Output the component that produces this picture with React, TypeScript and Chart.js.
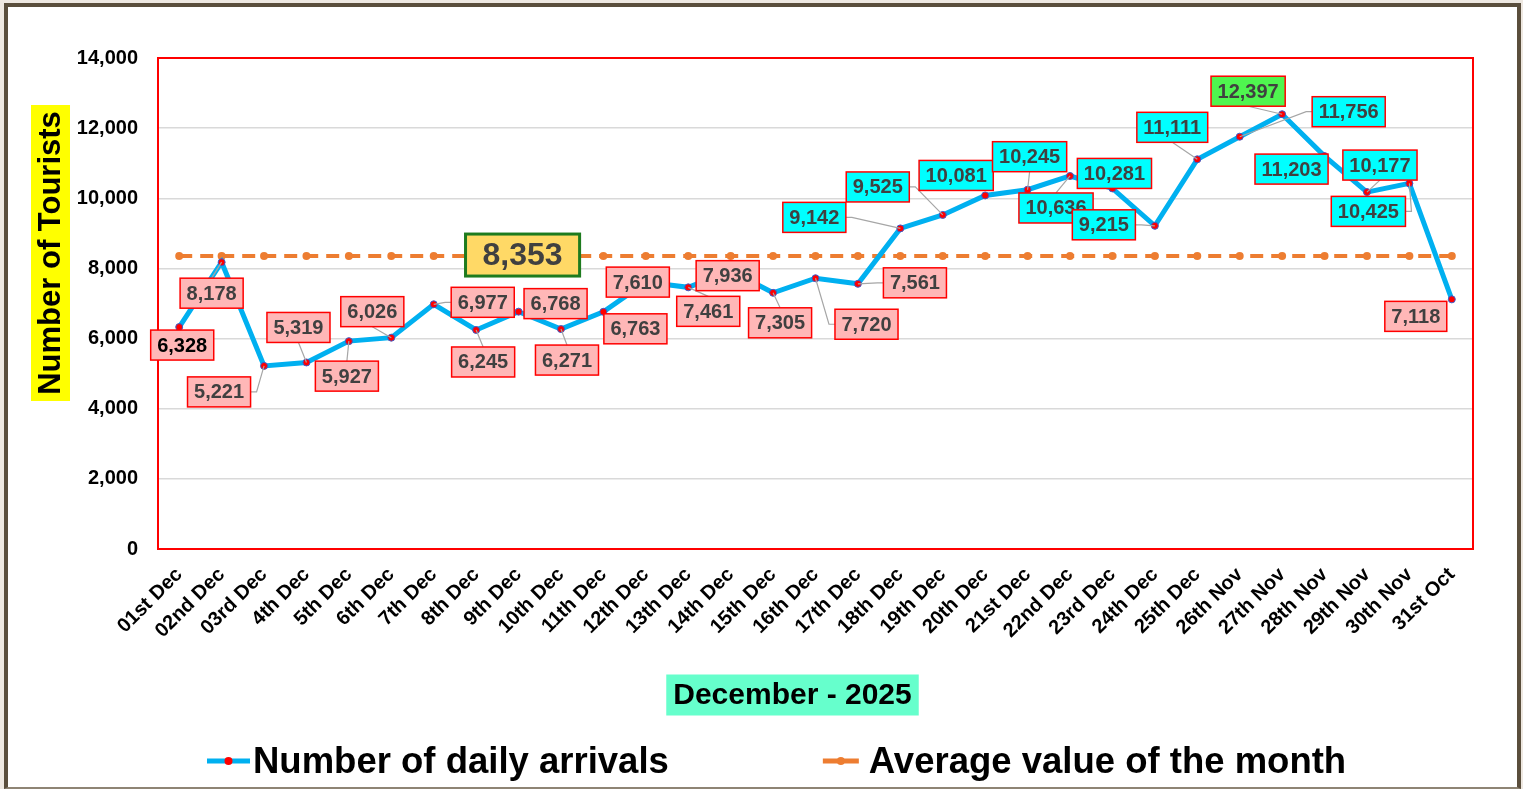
import { useEffect, useRef } from 'react';
import { Chart, registerables } from 'chart.js';

Chart.register(...registerables);

const CATEGORIES = [
  '01st Dec', '02nd Dec', '03rd Dec', '4th Dec', '5th Dec', '6th Dec', '7th Dec', '8th Dec',
  '9th Dec', '10th Dec', '11th Dec', '12th Dec', '13th Dec', '14th Dec', '15th Dec', '16th Dec',
  '17th Dec', '18th Dec', '19th Dec', '20th Dec', '21st Dec', '22nd Dec', '23rd Dec', '24th Dec',
  '25th Dec', '26th Nov', '27th Nov', '28th Nov', '29th Nov', '30th Nov', '31st Oct',
];

const DAILY_ARRIVALS = [
  6328, 8178, 5221, 5319, 5927, 6026, 6977, 6245, 6768, 6271, 6763, 7610, 7461, 7936, 7305, 7720,
  7561, 9142, 9525, 10081, 10245, 10636, 10281, 9215, 11111, 11756, 12397, 11203, 10177, 10425, 7118,
];

const MONTH_AVERAGE = 8353;
const AVERAGE_LINE = [
  8353, 8353, 8353, 8353, 8353, 8353, 8353, 8353, 8353, 8353, 8353, 8353, 8353, 8353, 8353, 8353,
  8353, 8353, 8353, 8353, 8353, 8353, 8353, 8353, 8353, 8353, 8353, 8353, 8353, 8353, 8353,
];

const Y_TICKS = [0, 2000, 4000, 6000, 8000, 10000, 12000, 14000];

const SERIES_NAMES = ['Number of daily arrivals', 'Average value of the month'];
const Y_TITLE = 'Number of Tourists';
const X_TITLE = 'December - 2025';

// label placement (pixel offsets of each data label centre from its point)
const LABEL_OFFSETS: [number, number][] = [
  [3, 18], [-10, 31], [-45, 26], [-8, -35], [-2, 35], [-19, -26], [49, -2], [7, 32],
  [37, -8], [6, 31], [32, 17], [-8, 0], [20, 24], [-3, 5], [7, 30], [51, 46],
  [57, -1], [-86, -11], [-65, -28], [-29, -20], [2, -33], [-14, 32], [2, -15], [-51, -1],
  [-25, -32], [109, -25], [-34, -23], [-33, 13], [13, -27], [-41, 28], [-36, 17],
];
const AVERAGE_LABEL_INDEX = 8;
const AVERAGE_LABEL_OFFSET: [number, number] = [4, -1];

const FONT = "'Liberation Sans', Arial, Helvetica, sans-serif";
const fmt = (v: number) => v.toLocaleString('en-US');

const overlayPlugin = {
  id: 'overlay',
  beforeDraw(chart: any) {
    const { ctx, chartArea: ca } = chart;
    ctx.save();
    // Y axis title with yellow background
    const yCx = ca.left - 107.5;
    const yCy = ca.top + 195;
    ctx.fillStyle = '#FFFF00';
    ctx.fillRect(yCx - 19.5, yCy - 148, 39, 296);
    ctx.translate(yCx, yCy);
    ctx.rotate(-Math.PI / 2);
    ctx.font = `bold 31px ${FONT}`;
    ctx.fillStyle = '#000';
    ctx.textAlign = 'center';
    ctx.textBaseline = 'middle';
    ctx.fillText(Y_TITLE, 0, 1);
    ctx.restore();

    // X axis title with aquamarine background
    ctx.save();
    ctx.font = `bold 30px ${FONT}`;
    const tw = ctx.measureText(X_TITLE).width;
    const xCx = (ca.left + ca.right) / 2 - 23;
    const xCy = ca.bottom + 146;
    ctx.fillStyle = '#66FFCC';
    ctx.fillRect(xCx - tw / 2 - 7, xCy - 20.5, tw + 14, 41);
    ctx.fillStyle = '#000';
    ctx.textAlign = 'center';
    ctx.textBaseline = 'middle';
    ctx.fillText(X_TITLE, xCx, xCy + 1);
    ctx.restore();
  },
  beforeDatasetsDraw(chart: any) {
    const { ctx, chartArea: ca } = chart;
    ctx.save();
    ctx.strokeStyle = '#FF0000';
    ctx.lineWidth = 2;
    ctx.strokeRect(ca.left, ca.top, ca.right - ca.left, ca.bottom - ca.top);
    ctx.restore();
  },
  afterDatasetsDraw(chart: any) {
    const { ctx } = chart;
    const meta = chart.getDatasetMeta(0);
    const maxV = Math.max(...DAILY_ARRIVALS);
    ctx.save();
    ctx.font = `bold 20px ${FONT}`;
    const boxes = DAILY_ARRIVALS.map((v, i) => {
      const p = meta.data[i];
      const text = fmt(v);
      const w = ctx.measureText(text).width + 13;
      const h = 30;
      const cx = p.x + LABEL_OFFSETS[i][0];
      const cy = p.y + LABEL_OFFSETS[i][1];
      return { v, i, px: p.x, py: p.y, text, l: cx - w / 2, r: cx + w / 2, t: cy - h / 2, b: cy + h / 2, cx, cy, w, h };
    });
    // leader lines
    ctx.strokeStyle = '#A6A6A6';
    ctx.lineWidth = 1.2;
    boxes.forEach((bx) => {
      const dx = Math.max(bx.l - bx.px, 0, bx.px - bx.r);
      const dy = Math.max(bx.t - bx.py, 0, bx.py - bx.b);
      if (Math.hypot(dx, dy) < 7) return;
      ctx.beginPath();
      if (bx.px > bx.r + 2) {
        ctx.moveTo(bx.r, bx.cy);
        ctx.lineTo(bx.r + 6, bx.cy);
      } else if (bx.px < bx.l - 2) {
        ctx.moveTo(bx.l, bx.cy);
        ctx.lineTo(bx.l - 6, bx.cy);
      } else if (bx.py > bx.b) {
        ctx.moveTo(bx.cx, bx.b);
      } else {
        ctx.moveTo(bx.cx, bx.t);
      }
      ctx.lineTo(bx.px, bx.py);
      ctx.stroke();
    });
    // label boxes
    boxes.forEach((bx) => {
      let fill = '#FFB7B7';
      if (bx.v === maxV) fill = '#4FF54F';
      else if (bx.v > MONTH_AVERAGE) fill = '#00FFFF';
      ctx.fillStyle = fill;
      ctx.fillRect(bx.l, bx.t, bx.w, bx.h);
      ctx.strokeStyle = '#FF0000';
      ctx.lineWidth = 1.5;
      ctx.strokeRect(bx.l, bx.t, bx.w, bx.h);
      ctx.fillStyle = bx.i === 0 ? '#000000' : '#404040';
      ctx.textAlign = 'center';
      ctx.textBaseline = 'middle';
      ctx.fillText(bx.text, bx.cx, bx.cy + 1);
    });
    // average label
    const am = chart.getDatasetMeta(1).data[AVERAGE_LABEL_INDEX];
    ctx.font = `bold 32px ${FONT}`;
    const at = fmt(MONTH_AVERAGE);
    const aw = ctx.measureText(at).width + 34;
    const ah = 42;
    const acx = am.x + AVERAGE_LABEL_OFFSET[0];
    const acy = am.y + AVERAGE_LABEL_OFFSET[1];
    ctx.fillStyle = '#FFD966';
    ctx.fillRect(acx - aw / 2, acy - ah / 2, aw, ah);
    ctx.strokeStyle = '#1E7B1E';
    ctx.lineWidth = 3;
    ctx.strokeRect(acx - aw / 2, acy - ah / 2, aw, ah);
    ctx.fillStyle = '#404040';
    ctx.textAlign = 'center';
    ctx.textBaseline = 'middle';
    ctx.fillText(at, acx, acy + 1);
    ctx.restore();
  },
  afterDraw(chart: any) {
    const { ctx } = chart;
    ctx.save();
    ctx.font = `bold 36.5px ${FONT}`;
    ctx.textBaseline = 'alphabetic';
    ctx.textAlign = 'left';
    const y = 761;
    let x = 207;
    const items = [
      { name: SERIES_NAMES[0], line: '#00B0F0', dot: '#FF0000', sw: 43 },
      { name: SERIES_NAMES[1], line: '#ED7D31', dot: '#ED7D31', sw: 36 },
    ];
    items.forEach((it, k) => {
      ctx.strokeStyle = it.line;
      ctx.lineWidth = 5;
      ctx.lineCap = 'butt';
      ctx.beginPath();
      ctx.moveTo(x, y);
      ctx.lineTo(x + it.sw, y);
      ctx.stroke();
      ctx.fillStyle = it.dot;
      ctx.beginPath();
      ctx.arc(x + it.sw / 2, y, 4, 0, Math.PI * 2);
      ctx.fill();
      const tx = x + it.sw + (k === 0 ? 3 : 10);
      ctx.fillStyle = '#000';
      ctx.fillText(it.name, tx, y + 12);
      x = tx + ctx.measureText(it.name).width + 154;
    });
    ctx.restore();
  },
};

export default function App() {
  const ref = useRef<HTMLCanvasElement>(null);
  useEffect(() => {
    document.body.style.margin = '0';
    document.body.style.overflow = 'hidden';
    const chart = new Chart(ref.current as HTMLCanvasElement, {
      type: 'line',
      data: {
        labels: CATEGORIES,
        datasets: [
          {
            label: SERIES_NAMES[0],
            data: DAILY_ARRIVALS,
            borderColor: '#00B0F0',
            backgroundColor: '#00B0F0',
            borderWidth: 5,
            tension: 0,
            pointRadius: 3.5,
            pointBackgroundColor: '#FF0000',
            pointBorderColor: '#3A5FCD',
            pointBorderWidth: 1,
            order: 0,
          },
          {
            label: SERIES_NAMES[1],
            data: AVERAGE_LINE,
            borderColor: '#ED7D31',
            backgroundColor: '#ED7D31',
            borderWidth: 4,
            borderDash: [13, 8],
            tension: 0,
            pointRadius: 4,
            pointBackgroundColor: '#ED7D31',
            pointBorderColor: '#ED7D31',
            pointBorderWidth: 0,
            order: 1,
          },
        ],
      },
      options: {
        responsive: false,
        animation: false,
        events: [],
        layout: { padding: { top: 58, right: 50, left: 0, bottom: 0 } },
        plugins: {
          legend: { display: false },
          tooltip: { enabled: false },
        },
        scales: {
          x: {
            offset: true,
            grid: { display: false, drawTicks: false },
            border: { display: false },
            ticks: {
              autoSkip: false,
              minRotation: 45,
              maxRotation: 45,
              padding: 14,
              color: '#000',
              font: { family: FONT, size: 20, weight: 'bold' },
            },
            afterFit: (s: any) => {
              s.height = 240;
            },
          },
          y: {
            min: 0,
            max: 14000,
            grid: { color: '#D9D9D9', lineWidth: 1.5, drawTicks: false },
            border: { display: false },
            afterBuildTicks: (s: any) => {
              s.ticks = Y_TICKS.map((v) => ({ value: v }));
            },
            ticks: {
              padding: 20,
              color: '#000',
              font: { family: FONT, size: 20, weight: 'bold' },
              callback: (v: any) => fmt(Number(v)),
            },
            afterFit: (s: any) => {
              s.width = 158;
            },
          },
        },
      } as any,
      plugins: [overlayPlugin],
    });
    return () => chart.destroy();
  }, []);

  return (
    <div style={{ position: 'relative', width: 1523, height: 789, background: '#EEE8E1', overflow: 'hidden' }}>
      <div
        style={{
          position: 'absolute',
          left: 4,
          top: 3,
          width: 1517,
          height: 786,
          boxSizing: 'border-box',
          background: '#FFFFFF',
          borderLeft: '4px solid #5A4E3C',
          borderTop: '4px solid #5A4E3C',
          borderRight: '4px solid #5A4E3C',
          borderBottom: '2px solid #8E8474',
        }}
      />
      <canvas
        ref={ref}
        width={1523}
        height={789}
        style={{ position: 'absolute', left: 0, top: 0, width: 1523, height: 789, display: 'block' }}
      />
    </div>
  );
}
